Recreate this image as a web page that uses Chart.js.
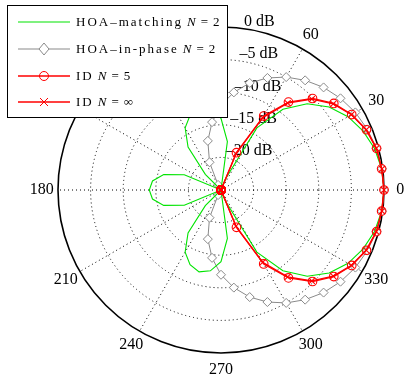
<!DOCTYPE html>
<html>
<head>
<meta charset="utf-8">
<script src="https://cdn.jsdelivr.net/npm/chart.js@4.4.1/dist/chart.umd.min.js"></script>
<style>
  html, body { margin: 0; padding: 0; background: #fff; }
  #wrap { width: 405px; height: 377px; }
</style>
</head>
<body>
<div id="wrap"><canvas id="polarChart" width="405" height="377"></canvas></div>
<script>
// angle of each sample, degrees (0 = right, counter-clockwise)
const angles = [0, 7.5, 15, 22.5, 30, 37.5, 45, 52.5, 60, 67.5, 75, 82.5,
  90, 97.5, 105, 112.5, 120, 127.5, 135, 142.5, 150, 157.5, 165, 172.5,
  180, 187.5, 195, 202.5, 210, 217.5, 225, 232.5, 240, 247.5, 255, 262.5,
  270, 277.5, 285, 292.5, 300, 307.5, 315, 322.5, 330, 337.5, 345, 352.5];

// levels in dB, -25 = centre of the plot
const hoaMatching = [0, -0.15, -0.6, -1.4, -2.5, -4.1, -6.3, -9.4, -14.0, -23.1, -25, -17.5,
  -14.0, -12.5, -12.0, -12.6, -14.0, -16.7, -21.6, -25, -25, -18.9, -15.9, -14.4,
  -14.0, -14.4, -15.9, -18.9, -25, -25, -21.6, -16.7, -14.0, -12.6, -12.0, -12.5,
  -14.0, -17.5, -25, -23.1, -14.0, -9.4, -6.3, -4.1, -2.5, -1.4, -0.6, -0.15];
const hoaInPhase = [0, -0.1, -0.3, -0.7, -1.2, -1.9, -2.75, -3.8, -5.0, -6.4, -8.0, -9.9,
  -12.0, -14.5, -17.2, -20.4, -24.1, -25, -25, -25, -25, -25, -25, -25,
  -25, -25, -25, -25, -25, -25, -25, -25, -24.1, -20.4, -17.2, -14.5,
  -12.0, -9.9, -8.0, -6.4, -5.0, -3.8, -2.75, -1.9, -1.2, -0.7, -0.3, -0.1];
const idN5 = [0, -0.15, -0.3, -0.85, -1.85, -3.2, -5.15, -8.0, -11.9, -18.8, -25, -25,
  -25, -25, -25, -25, -25, -25, -25, -25, -25, -25, -25, -25,
  -25, -25, -25, -25, -25, -25, -25, -25, -25, -25, -25, -25,
  -25, -25, -25, -18.8, -11.9, -8.0, -5.15, -3.2, -1.85, -0.85, -0.3, -0.15];
const idInf = [0, -0.1, -0.35, -0.9, -1.9, -3.3, -5.3, -8.2, -12.2, -19.0, -25, -25,
  -25, -25, -25, -25, -25, -25, -25, -25, -25, -25, -25, -25,
  -25, -25, -25, -25, -25, -25, -25, -25, -25, -25, -25, -25,
  -25, -25, -25, -19.0, -12.2, -8.2, -5.3, -3.3, -1.9, -0.9, -0.35, -0.1];

// 90, 120 and 150 sit under the legend box
const angleTicks = [0, 30, 60, 180, 210, 240, 270, 300, 330];
const spokeAngles = [0, 30, 60, 120, 150, 180, 210, 240, 300, 330];
const dbTicks = [0, -5, -10, -15, -20];
const dbLabels = ['0 dB', '\u20135 dB', '\u201310 dB', '\u201315 dB', '\u201320 dB'];

const GREEN = '#00e400';
const GRAY = '#8a8a8a';
const RED = '#ff0000';

// radar goes clockwise from its start angle, the plot counter-clockwise
const n = angles.length;
const slot = angles.map((a, i) => (n - i) % n);
const reorder = arr => slot.map(j => arr[j]);
const spokeSlots = spokeAngles.map(a => (n - Math.round(a / 7.5)) % n);

const serif = '"Liberation Serif", "DejaVu Serif", serif';

const labelsPlugin = {
  id: 'polarLabels',
  beforeDatasetsDraw(chart) {
    const c = chart.ctx;
    const r = chart.scales.r;
    c.save();
    c.fillStyle = '#000';
    c.font = '16px ' + serif;
    c.textAlign = 'center';
    c.textBaseline = 'middle';
    angleTicks.forEach(a => {
      const i = (n - Math.round(a / 7.5)) % n;
      const p = r.getPointPosition(i, r.drawingArea * 1.1);
      c.fillText(String(a), p.x, p.y);
    });
    c.textAlign = 'left';
    c.textBaseline = 'bottom';
    const t = 82 * Math.PI / 180;
    dbTicks.forEach((v, k) => {
      const d = r.getDistanceFromCenterForValue(v) + r.drawingArea / 100;
      c.fillText(dbLabels[k], r.xCenter + d * Math.cos(t), r.yCenter - d * Math.sin(t) + 3);
    });
    c.restore();
  },
  afterDraw(chart) {
    const c = chart.ctx;
    c.save();
    c.fillStyle = '#fff';
    c.fillRect(7.5, 5.5, 220, 112);
    c.strokeStyle = '#000';
    c.lineWidth = 1;
    c.strokeRect(7.5, 5.5, 220, 112);
    const rows = [
      { txt: 'HOA\u2013matching', num: '2', color: GREEN, y: 22, mark: null },
      { txt: 'HOA\u2013in-phase', num: '2', color: GRAY, y: 49, mark: 'diamond' },
      { txt: 'ID', num: '5', color: RED, y: 76, mark: 'circle' },
      { txt: 'ID', num: '\u221e', color: RED, y: 102, mark: 'cross' }
    ];
    rows.forEach(row => {
      c.strokeStyle = row.color;
      c.lineWidth = row.color === RED ? 1.3 : 1.2;
      c.beginPath();
      c.moveTo(18, row.y);
      c.lineTo(70, row.y);
      c.stroke();
      c.lineWidth = 1;
      if (row.mark === 'diamond') {
        c.fillStyle = '#fff';
        c.beginPath();
        c.moveTo(44, row.y - 6); c.lineTo(49, row.y); c.lineTo(44, row.y + 6); c.lineTo(39, row.y);
        c.closePath();
        c.fill();
        c.stroke();
      } else if (row.mark === 'circle') {
        c.beginPath();
        c.arc(44, row.y, 4.5, 0, Math.PI * 2);
        c.stroke();
      } else if (row.mark === 'cross') {
        c.beginPath();
        c.moveTo(40, row.y - 4); c.lineTo(48, row.y + 4);
        c.moveTo(48, row.y - 4); c.lineTo(40, row.y + 4);
        c.stroke();
      }
      c.fillStyle = '#000';
      c.textAlign = 'left';
      c.textBaseline = 'middle';
      c.font = '13px ' + serif;
      c.letterSpacing = '2px';
      c.fillText(row.txt, 76, row.y + 1);
      let x = 76 + c.measureText(row.txt).width + 4;
      c.letterSpacing = '0px';
      c.font = 'italic 13px ' + serif;
      c.fillText('N', x, row.y + 1);
      x += c.measureText('N').width + 5;
      c.font = '13px ' + serif;
      c.fillText('=', x, row.y + 1);
      x += c.measureText('=').width + 5;
      c.fillText(row.num, x, row.y + 1);
    });
    c.restore();
  }
};

new Chart(document.getElementById('polarChart').getContext('2d'), {
  type: 'radar',
  data: {
    labels: reorder(angles),
    datasets: [
      {
        label: 'HOA-matching N = 2',
        data: reorder(hoaMatching),
        borderColor: GREEN,
        borderWidth: 1.1,
        fill: false,
        pointRadius: 0,
        order: 2
      },
      {
        label: 'HOA-in-phase N = 2',
        data: reorder(hoaInPhase),
        borderColor: GRAY,
        borderWidth: 1,
        fill: false,
        pointStyle: 'rectRot',
        pointRadius: ctx => ctx.raw <= -25 ? 0 : 4.5,
        pointBackgroundColor: '#fff',
        pointBorderColor: GRAY,
        pointBorderWidth: 1,
        order: 3
      },
      {
        label: 'ID N = 5',
        data: reorder(idN5),
        borderColor: RED,
        borderWidth: 1.3,
        fill: false,
        pointStyle: 'circle',
        pointRadius: 4.3,
        pointBackgroundColor: 'rgba(0,0,0,0)',
        pointBorderColor: RED,
        pointBorderWidth: 1.1,
        order: 1
      },
      {
        label: 'ID N = inf',
        data: reorder(idInf),
        borderColor: RED,
        borderWidth: 1.3,
        fill: false,
        pointStyle: 'crossRot',
        pointRadius: 4.3,
        pointBorderColor: RED,
        pointBorderWidth: 1.1,
        order: 0
      }
    ]
  },
  options: {
    responsive: false,
    animation: false,
    events: [],
    layout: { padding: { left: 58, right: 21, top: 27, bottom: 23 } },
    plugins: { legend: { display: false }, tooltip: { enabled: false } },
    scales: {
      r: {
        min: -25,
        max: 0,
        startAngle: 90,
        ticks: { display: false, stepSize: 5 },
        pointLabels: { display: false },
        grid: {
          circular: true,
          color: '#000',
          lineWidth: ctx => (ctx.tick && ctx.tick.value === 0) ? 1.6 : 1
        },
        border: {
          dash: ctx => (ctx.tick && ctx.tick.value === 0) ? [] : [1, 3]
        },
        angleLines: {
          color: '#000',
          lineWidth: ctx => spokeSlots.includes(ctx.index) ? 1 : 0,
          borderDash: [1, 3]
        }
      }
    }
  },
  plugins: [labelsPlugin]
});
</script>
</body>
</html>
